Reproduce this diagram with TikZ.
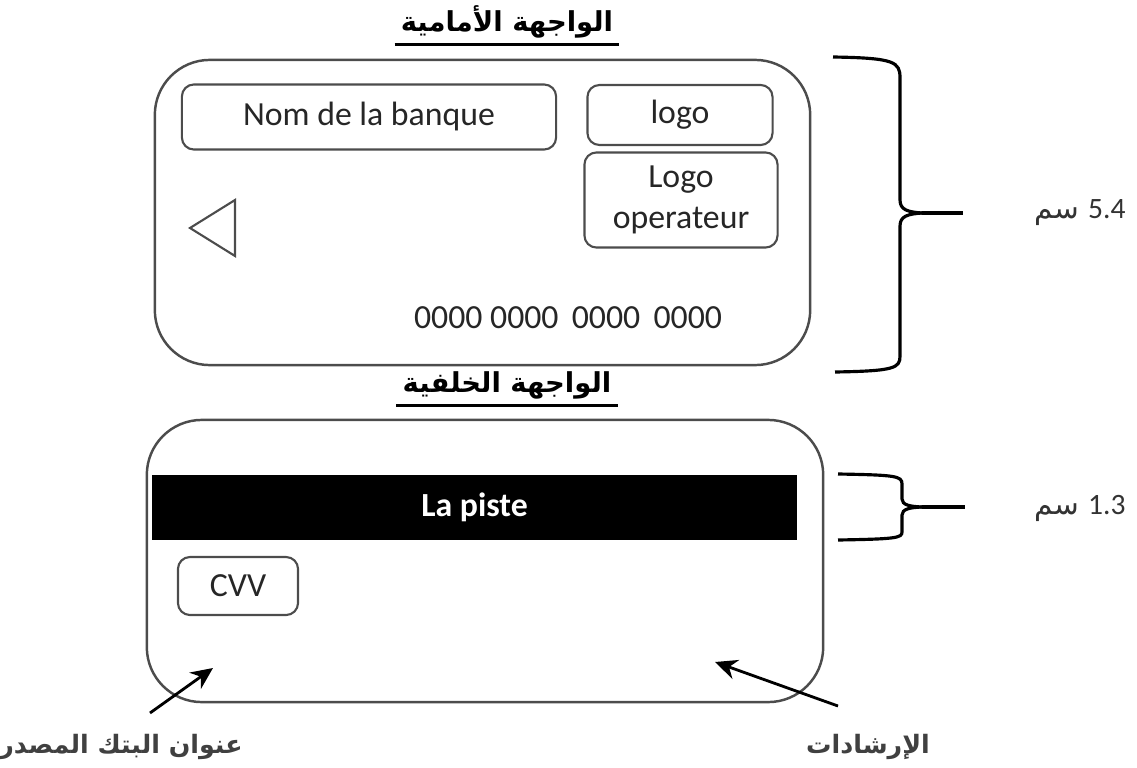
\documentclass[tikz,border=0pt]{standalone}
\usepackage{fontspec}
\setmainfont{Carlito}
\newfontfamily\arabicfont[Script=Arabic]{DejaVu Sans}
\TeXXeTstate=1
\usetikzlibrary{arrows.meta}

\begin{document}
\begin{tikzpicture}[x=0.01cm,y=-0.01cm,
>={Stealth[length=2.2mm,width=2mm]},line width=0.6pt,black!70,text=black!85,
card/.style={draw,rounded corners=0.55cm,line width=0.7pt},
field/.style={draw,rounded corners=0.12cm,align=center,font=\fontsize{9.6}{11.5}\selectfont},
heading/.style={font=\arabicfont\bfseries\fontsize{7.8}{9}\selectfont,text=black,inner sep=1.5pt},
note/.style={font=\arabicfont\bfseries\fontsize{7.2}{9}\selectfont,text=black!75},
sizelabel/.style={font=\arabicfont\fontsize{8.4}{10}\selectfont,text=black!80},
bracket/.style={black,line width=0.9pt}]

  \useasboundingbox (0,0) rectangle (1137,767);

  % front face
  \node [heading] (fronttitle) at (507,22) {\beginR الواجهة الأمامية\endR};
  \draw [black,line width=0.9pt] (fronttitle.south west) -- (fronttitle.south east);

  \node [card,minimum width=6.55cm,minimum height=3.05cm] (front) at (482.5,212.5) {};
  \node [field,minimum width=3.74cm,minimum height=0.65cm] (bank) at (369,117) {Nom de la banque};
  \node [field,minimum width=1.85cm,minimum height=0.6cm] (logo) at (680,115) {logo};
  \node [field,minimum width=1.93cm,minimum height=0.95cm] (oplogo) at (681,200) {Logo\\operateur};
  \node [font=\fontsize{9.6}{11.5}\selectfont] (number) at (568,318) {0000 0000\, 0000\, 0000};
  \draw (235,200) -- (190,228) -- (235,256) -- cycle;

  % back face
  \node [heading] (backtitle) at (507,385) {\beginR الواجهة الخلفية\endR};
  \draw [black,line width=0.9pt] (backtitle.south west) -- (backtitle.south east);

  \node [card,minimum width=6.76cm,minimum height=2.82cm] (back) at (485,561) {};
  \node [fill=black,minimum width=6.45cm,minimum height=0.65cm,text=white,
         font=\bfseries\fontsize{9.6}{11.5}\selectfont] (stripe) at (474.5,507.5) {La piste};
  \node [field,minimum width=1.2cm,minimum height=0.58cm] (cvv) at (238,586) {CVV};

  % sizes
  \coordinate (fronttip) at (922,213);
  \coordinate (frontend) at (963,213);
  \draw [bracket] (833,57) .. controls (895,58) and (900,62) .. (900,78) -- (900,200)
    .. controls (900,210) and (908,212) .. (fronttip);
  \draw [bracket] (fronttip) .. controls (908,214) and (900,216) .. (900,226) -- (900,356)
    .. controls (900,368) and (895,371) .. (835,372);
  \draw [bracket] (fronttip) -- (frontend);
  \node [sizelabel] (frontsize) at (1080,213) {\beginR\beginL{\rmfamily 5.4}\endL{} سم\endR};

  \coordinate (backtip) at (922,507);
  \coordinate (backend) at (965,507);
  \draw [bracket] (838,474) .. controls (896,475) and (902,476) .. (902,484) -- (902,499)
    .. controls (902,505) and (910,506.5) .. (backtip);
  \draw [bracket] (backtip) .. controls (910,507.5) and (902,509) .. (902,515) -- (902,532)
    .. controls (902,538) and (896,539) .. (838,540);
  \draw [bracket] (backtip) -- (backend);
  \node [sizelabel] (backsize) at (1080,508) {\beginR\beginL{\rmfamily 1.3}\endL{} سم\endR};

  % remarks
  \node [note] (address) at (121,747) {\beginR عنوان البتك المصدر\endR};
  \node [note] (hints) at (868,747) {\beginR الإرشادات\endR};
  \coordinate (addrtail) at (150,713);
  \coordinate (addrhead) at (213,668);
  \coordinate (hinttail) at (838,706);
  \coordinate (hinthead) at (715,662);
  \draw [black,line width=0.8pt,->] (addrtail) -- (addrhead);
  \draw [black,line width=0.8pt,->] (hinttail) -- (hinthead);
\end{tikzpicture}
\end{document}
